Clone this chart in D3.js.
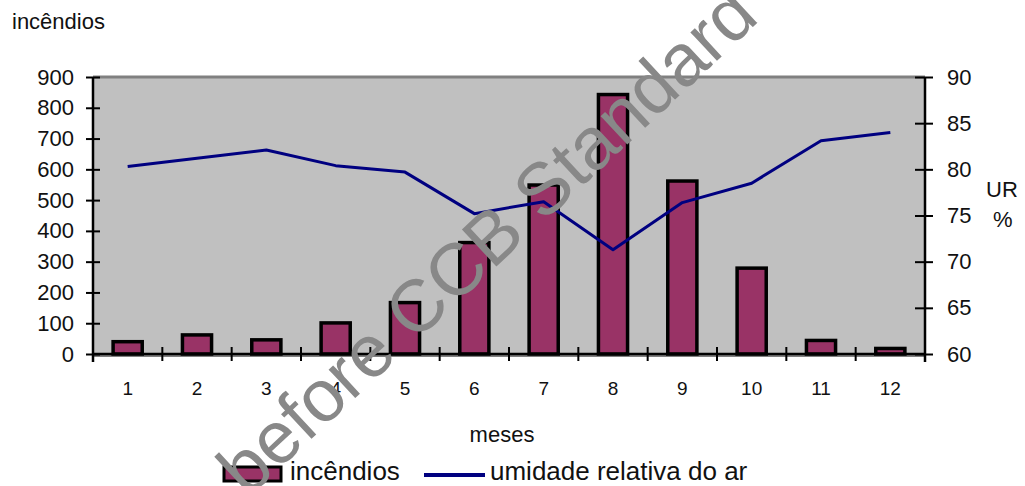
<!DOCTYPE html>
<html>
<head>
<meta charset="utf-8">
<script src="https://cdn.jsdelivr.net/npm/d3@7"></script>
<style>
  html, body { margin: 0; padding: 0; background: #fff; }
  svg { display: block; font-family: "Liberation Sans", Arial, sans-serif; }
</style>
</head>
<body>
<svg id="chart" width="1025" height="486"></svg>
<script>
// Monthly forest fires and mean relative humidity
const months = ["1", "2", "3", "4", "5", "6", "7", "8", "9", "10", "11", "12"];
const fires = [40, 62, 46, 101, 167, 362, 549, 843, 562, 279, 44, 18];
const humidity = [80.3, 81.2, 82.1, 80.4, 79.7, 75.2, 76.5, 71.3, 76.4, 78.5, 83.1, 84.0];
const leftTicks = [0, 100, 200, 300, 400, 500, 600, 700, 800, 900];
const rightTicks = [60, 65, 70, 75, 80, 85, 90];

const svg = d3.select("#chart");
const W = 1025, H = 486;
const plot = { left: 93, right: 925, top: 77, bottom: 354 };

const x = d3.scaleBand().domain(months).range([plot.left, plot.right]);
const yL = d3.scaleLinear().domain([0, 900]).range([plot.bottom, plot.top]);
const yR = d3.scaleLinear().domain([60, 90]).range([plot.bottom, plot.top]);

const barColor = "#993366";
const lineColor = "#000080";
const textColor = "#111";

// plot background
svg.append("rect")
  .attr("x", plot.left).attr("y", plot.top)
  .attr("width", plot.right - plot.left).attr("height", plot.bottom - plot.top)
  .attr("fill", "#c0c0c0");
svg.append("line")
  .attr("x1", plot.left).attr("x2", plot.right)
  .attr("y1", plot.top).attr("y2", plot.top)
  .attr("stroke", "#808080").attr("stroke-width", 3);
svg.append("line")
  .attr("x1", plot.left).attr("x2", plot.right)
  .attr("y1", plot.bottom + 2).attr("y2", plot.bottom + 2)
  .attr("stroke", "#808080").attr("stroke-width", 2);

// bars
const barW = x.bandwidth() * 0.42;
svg.append("g").selectAll("rect")
  .data(months.map((m, i) => ({ m, v: fires[i] })))
  .join("rect")
  .attr("x", d => x(d.m) + (x.bandwidth() - barW) / 2)
  .attr("y", d => yL(d.v))
  .attr("width", barW)
  .attr("height", d => yL(0) - yL(d.v))
  .attr("fill", barColor)
  .attr("stroke", "#000")
  .attr("stroke-width", 3.5);

// humidity line
const line = d3.line()
  .x((d, i) => x(months[i]) + x.bandwidth() / 2)
  .y(d => yR(d));
svg.append("path")
  .datum(humidity)
  .attr("d", line)
  .attr("fill", "none")
  .attr("stroke", lineColor)
  .attr("stroke-width", 3)
  .attr("stroke-linejoin", "round");

// left axis
const gL = svg.append("g")
  .attr("transform", `translate(${plot.left},0)`)
  .call(d3.axisLeft(yL).tickValues(leftTicks).tickSize(7).tickPadding(12));
gL.select(".domain").attr("stroke", "#000").attr("stroke-width", 2.5)
  .attr("d", `M0,${plot.top}V${plot.bottom + 8}`);
gL.selectAll(".tick line").attr("x1", -7).attr("x2", 7).attr("stroke", "#000").attr("stroke-width", 2);
gL.selectAll(".tick text").attr("font-size", 22).attr("fill", textColor)
  .attr("font-family", "'Liberation Sans', Arial, sans-serif");

// right axis
const gR = svg.append("g")
  .attr("transform", `translate(${plot.right},0)`)
  .call(d3.axisRight(yR).tickValues(rightTicks).tickSize(8).tickPadding(14));
gR.select(".domain").attr("stroke", "#000").attr("stroke-width", 2.5)
  .attr("d", `M0,${plot.top}V${plot.bottom + 8}`);
gR.selectAll(".tick line").attr("x1", -10).attr("x2", 8).attr("stroke", "#000").attr("stroke-width", 2);
gR.selectAll(".tick text").attr("font-size", 22).attr("fill", textColor)
  .attr("font-family", "'Liberation Sans', Arial, sans-serif");

// bottom axis: labels centred on months, ticks between months
const gB = svg.append("g")
  .attr("transform", `translate(0,${plot.bottom})`)
  .call(d3.axisBottom(x).tickSize(0).tickPadding(28));
gB.select(".domain").attr("stroke", "#000").attr("stroke-width", 2.5)
  .attr("d", `M${plot.left},0H${plot.right}`);
gB.selectAll(".tick text").attr("font-size", 19).attr("fill", textColor)
  .attr("font-family", "'Liberation Sans', Arial, sans-serif");
const bounds = months.map(m => x(m)).concat([x.range()[1]]);
gB.selectAll("line.sep")
  .data(bounds.slice(1, -1))
  .join("line")
  .attr("class", "sep")
  .attr("x1", d => d).attr("x2", d => d)
  .attr("y1", -7).attr("y2", 7)
  .attr("stroke", "#000").attr("stroke-width", 2);

// axis titles
svg.append("text").attr("x", 12).attr("y", 29)
  .attr("font-size", 22).attr("fill", textColor).text("incêndios");
svg.append("text").attr("x", 986).attr("y", 197)
  .attr("font-size", 22).attr("fill", textColor).text("UR");
svg.append("text").attr("x", 993).attr("y", 227)
  .attr("font-size", 22).attr("fill", textColor).text("%");
svg.append("text").attr("x", 502).attr("y", 442)
  .attr("text-anchor", "middle")
  .attr("font-size", 22).attr("fill", textColor).text("meses");

// legend
const lg = svg.append("g");
lg.append("rect").attr("x", 224).attr("y", 467).attr("width", 57).attr("height", 14)
  .attr("fill", barColor).attr("stroke", "#000").attr("stroke-width", 3);
lg.append("text").attr("x", 290).attr("y", 480)
  .attr("font-size", 26).attr("fill", textColor).text("incêndios");
lg.append("line").attr("x1", 424).attr("x2", 485).attr("y1", 475).attr("y2", 475)
  .attr("stroke", lineColor).attr("stroke-width", 4);
lg.append("text").attr("x", 490).attr("y", 480)
  .attr("font-size", 26).attr("fill", textColor).text("umidade relativa do ar");

// diagonal watermark over the chart
svg.append("text")
  .attr("transform", "translate(247,499) rotate(-43)")
  .attr("font-size", 73.5)
  .attr("fill", "#888")
  .text("before CCB Standard");
</script>
</body>
</html>
